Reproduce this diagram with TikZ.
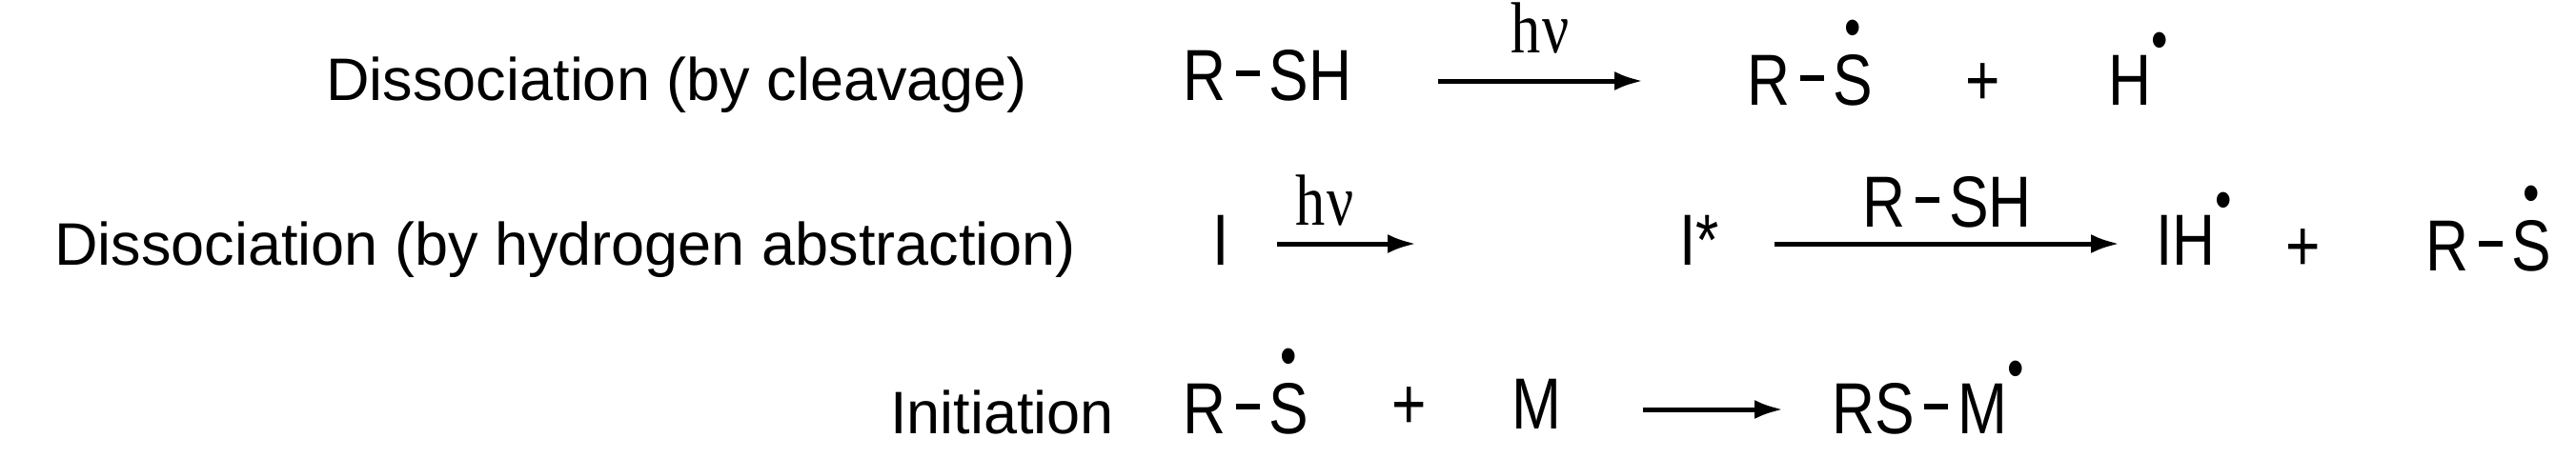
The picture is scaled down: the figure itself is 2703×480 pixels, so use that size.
\documentclass[tikz,border=0pt]{standalone}
\usepackage{fontspec}
\setmainfont{Liberation Sans}
\newfontfamily\nufont{Liberation Serif}
\usetikzlibrary{arrows.meta}
\newcommand\dotS{\ooalign{S\cr\hidewidth\raisebox{0.8em}{\scalebox{0.8}{\textbullet}}\hidewidth\cr}}
\newcommand\radsup{\raisebox{0.62em}{\scalebox{0.8}{\textbullet}}}
\newcommand\bnd{\,\rule[0.33em]{0.4em}{0.08em}\,}
\newcommand\hnu{{\nufont h\kern0.02em ν}}
\begin{document}
\begin{tikzpicture}[x=1pt,y=-1pt,
  every node/.style={font=\fontsize{63}{66}\selectfont,inner sep=0pt},
  chem/.style={anchor=base west,xscale=0.82,font=\fontsize{76}{80}\selectfont},
  lab/.style={anchor=base east},
  rx/.style={line width=5pt,-{Latex[length=30pt,width=20pt]}}]
\useasboundingbox (0,0) rectangle (2703,480);
% row 1
\node[lab] (l1) at (1078,105) {Dissociation (by cleavage)};
\node[chem] (a1) at (1241,105) {R\bnd SH};
\coordinate (s1) at (1509,85); \coordinate (e1) at (1724,85);
\node[anchor=base,chem,anchor=base] (h1) at (1616,55) {\hnu};
\node[chem] (b1) at (1833,110) {R\bnd\dotS};
\node[chem,anchor=base] (p1) at (2081,110) {+};
\node[chem] (c1) at (2212,110) {H\radsup};
\draw[rx] (s1) -- (e1);
% row 2
\node[lab] (l2) at (1129,278) {Dissociation (by hydrogen abstraction)};
\node[chem] (a2) at (1272,278) {I};
\coordinate (s2) at (1340,256); \coordinate (e2) at (1486,256);
\node[chem,anchor=base] (h2) at (1390,236) {\hnu};
\node[chem] (b2) at (1762,278) {I*};
\coordinate (s3) at (1862,256); \coordinate (e3) at (2224,256);
\node[chem,anchor=base] (r2) at (2043,238) {R\bnd SH};
\node[chem] (c2) at (2262,278) {IH\radsup};
\node[chem,anchor=base] (p2) at (2417,284) {+};
\node[chem] (d2) at (2545,284) {R\bnd\dotS};
\draw[rx] (s2) -- (e2);
\draw[rx] (s3) -- (e3);
% row 3
\node[lab] (l3) at (1169,455) {Initiation};
\node[chem] (a3) at (1241,455) {R\bnd\dotS};
\node[chem,anchor=base] (p3) at (1479,450) {+};
\node[chem] (m3) at (1586,450) {M};
\coordinate (s4) at (1724,430); \coordinate (e4) at (1871,430);
\node[chem] (c3) at (1922,455) {RS\bnd M\radsup};
\draw[rx] (s4) -- (e4);
\end{tikzpicture}
\end{document}
